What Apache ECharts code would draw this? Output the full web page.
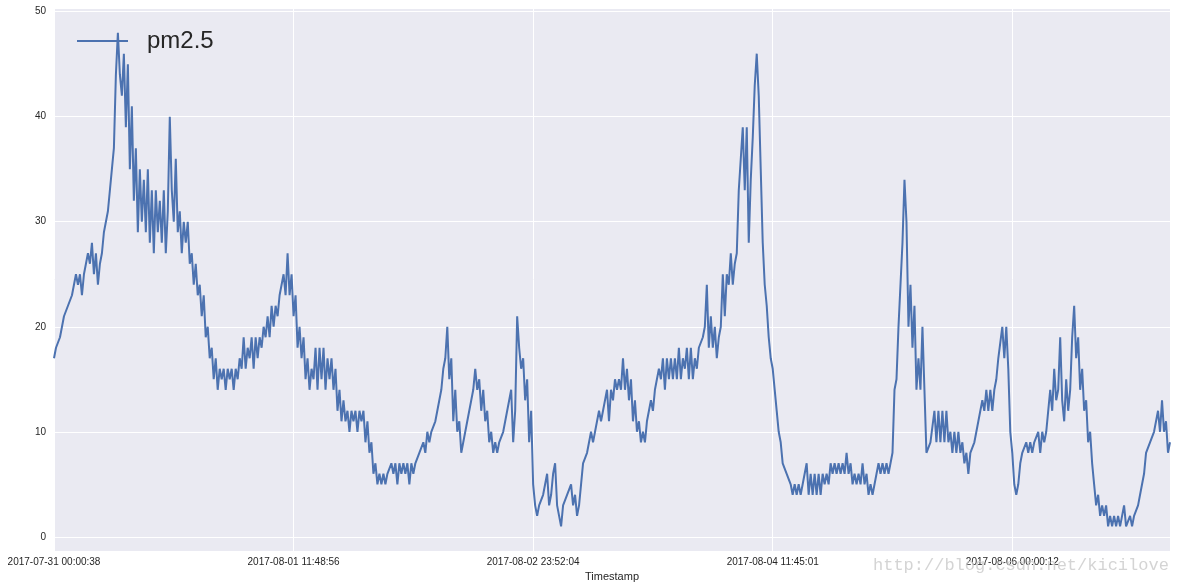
<!DOCTYPE html>
<html><head><meta charset="utf-8">
<script src="https://cdn.jsdelivr.net/npm/echarts@6/dist/echarts.min.js"></script>
<style>html,body{margin:0;padding:0;background:#fff}#c{width:1177px;height:588px}</style>
</head><body><div id="c"></div>
<script>
const seriesName = 'pm2.5';
const xAxisName = 'Timestamp';
const xTickLabels = ['2017-07-31 00:00:38','2017-08-01 11:48:56','2017-08-02 23:52:04','2017-08-04 11:45:01','2017-08-06 00:00:12'];
const samplesPerTick = 120;
const yTicks = [0,10,20,30,40,50];
const watermark = 'http://blog.csdn.net/kicilove';

const pm25Day1 = [17,18,18,19,19,21,21,22,22,23,23,25,24,25,23,25,25,27,26,28,
  25,27,24,26,27,29,29,31,31,35,37,44,48,44,42,46,39,45,35,41,
  32,37,29,35,30,34,29,35,28,33,27,33,29,32,28,33,27,31,40,33,
  30,36,29,31,27,30,28,30,26,27,24,26,23,24,21,23,19,20,17,18,
  15,17,14,16,15,16,14,16,15,16,14,16,15,17,16,19,16,18,17,19,
  16,19,17,19,18,20,19,21,19,22,20,22,21,23,23,25,23,27,23,25];
const pm25Day2 = [21,23,18,20,17,19,15,17,14,16,15,18,14,18,15,18,14,17,15,17,
  14,16,12,14,11,13,11,12,10,12,11,12,10,12,11,12,9,11,8,9,
  6,7,5,6,5,6,5,6,6,7,6,7,5,7,6,7,6,7,5,7,
  6,7,7,8,8,9,8,10,9,10,10,11,12,13,14,16,17,20,15,17,
  11,14,10,11,8,9,9,11,12,13,14,16,14,15,12,14,11,12,9,10,
  8,9,8,9,9,10,11,12,13,14,9,12,21,18,16,17,13,15,9,12];
const pm25Day3 = [5,3,2,3,3,4,4,6,3,4,6,7,3,2,1,3,3,4,4,5,
  3,4,2,3,5,7,7,8,8,10,9,10,10,12,11,12,13,14,11,14,
  13,15,14,15,14,17,14,16,13,15,11,13,10,11,9,10,9,11,11,13,
  12,14,14,16,15,17,14,17,15,17,15,17,15,18,15,17,16,18,15,18,
  15,17,16,18,18,19,20,24,18,21,18,20,17,19,20,25,21,25,24,27,
  24,26,27,33,36,39,33,39,28,34,38,43,46,42,35,28,24,22,19,17];
const pm25Day4 = [16,14,12,10,9,7,7,6,6,5,4,5,4,5,4,5,5,7,4,6,
  4,6,4,6,4,6,5,6,5,7,6,7,6,7,6,7,6,8,6,7,
  5,6,5,6,5,7,5,6,4,5,4,5,6,7,6,7,6,7,6,7,
  8,14,15,20,24,28,34,30,20,24,18,22,14,17,14,20,14,8,8,9,
  9,12,9,12,9,12,9,12,9,10,8,10,8,10,8,9,7,8,6,8,
  8,9,10,11,11,13,12,14,12,14,12,14,15,17,17,20,17,20,16,10];
const pm25Day5 = [8,5,4,5,7,8,8,9,8,9,8,9,9,10,8,10,9,10,12,14,
  12,16,13,14,19,13,11,15,12,14,19,22,17,19,14,16,12,13,9,10,
  7,5,3,4,2,3,2,3,1,2,1,2,1,2,1,2,3,1,1,2,
  1,2,2,3,4,5,6,8,8,9,9,10,10,12,10,13,10,11,8,9];
const pm25 = [].concat(pm25Day1, pm25Day2, pm25Day3, pm25Day4, pm25Day5);

const chart = echarts.init(document.getElementById('c'), null, {renderer:'canvas'});
const txt = '#262626';
chart.setOption({
  animation: false,
  backgroundColor: '#ffffff',
  grid: {left:54, right:7, top:8, bottom:37, show:true, backgroundColor:'#EAEAF2', borderWidth:0},
  legend: {
    show:true, left:72, top:24, icon:'rect', itemWidth:51, itemHeight:2,
    textStyle:{fontSize:24, color:txt, fontFamily:'Liberation Sans, Arial', padding:[0,0,0,14]},
    data:[seriesName]
  },
  xAxis: {
    type:'value', min:0, max:pm25.length-1, interval:samplesPerTick,
    axisLine:{show:false}, axisTick:{show:false},
    splitLine:{show:true, lineStyle:{color:'#ffffff', width:1}},
    axisLabel:{
      fontSize:10, color:txt, margin:6, fontFamily:'Liberation Sans, Arial',
      formatter: v => (v % samplesPerTick === 0 && xTickLabels[v/samplesPerTick]) ? xTickLabels[v/samplesPerTick] : ''
    },
    name:xAxisName, nameLocation:'middle', nameGap:20,
    nameTextStyle:{fontSize:11, color:txt, fontFamily:'Liberation Sans, Arial'}
  },
  yAxis: {
    type:'value', min:-1.35, max:50.35, splitNumber:5,
    axisLine:{show:false}, axisTick:{show:false},
    splitLine:{show:true, lineStyle:{color:'#ffffff', width:1}},
    axisLabel:{
      fontSize:10, color:txt, margin:8, fontFamily:'Liberation Sans, Arial',
      formatter: v => { const r = Math.round(v); return (Math.abs(v-r)<1e-6 && yTicks.indexOf(r)>=0) ? String(r) : ''; }
    }
  },
  series: [{
    name: seriesName, type:'line', showSymbol:false, symbol:'none',
    lineStyle:{color:'#4C72B0', width:2}, itemStyle:{color:'#4C72B0'},
    data: pm25.map((v,i)=>[i,v])
  }],
  graphic: [{
    type:'text', left:873, top:557, z:100,
    style:{text:watermark, font:'17px "Liberation Mono", monospace', fill:'rgba(205,205,205,0.85)'}
  }]
});
</script></body></html>
